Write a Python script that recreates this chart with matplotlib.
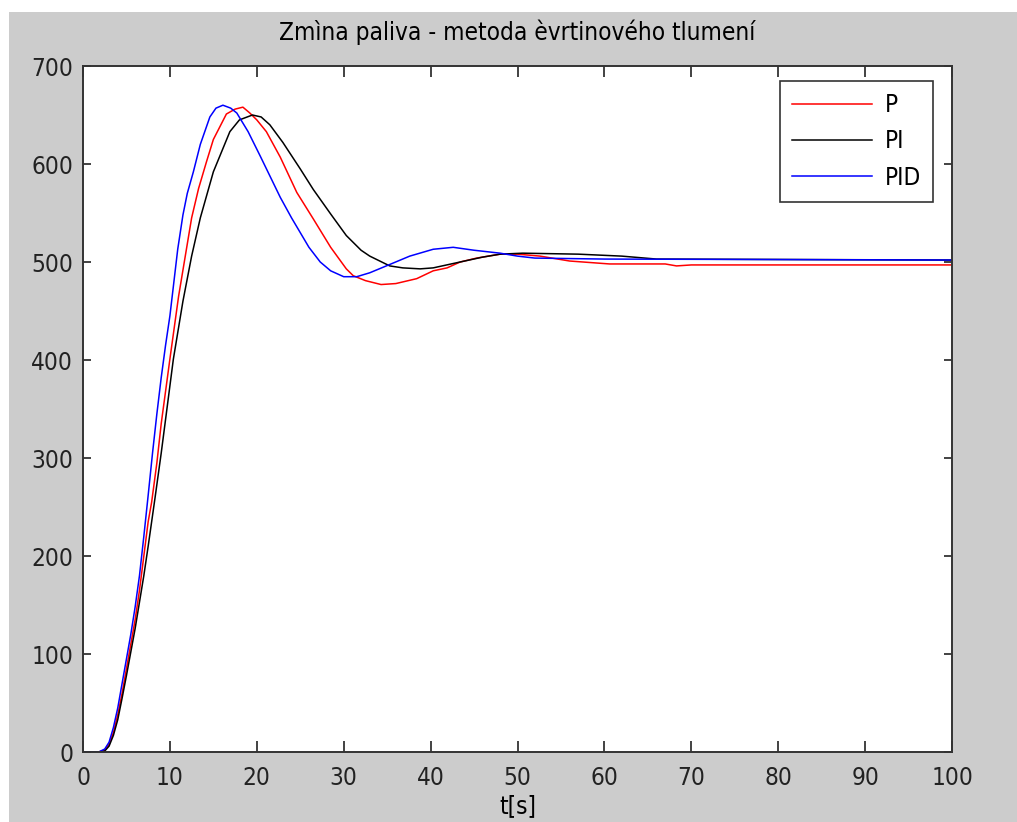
import numpy as np
import matplotlib
matplotlib.use("Agg")
from matplotlib import pyplot as plt
from matplotlib.patches import Rectangle
from matplotlib import font_manager

# (t in s, value)
t_p = [0, 1.8, 2.5, 3, 3.5, 4, 4.5, 5, 5.5, 6, 6.5, 7, 7.5, 7.9, 8.5, 9, 10, 11, 11.9, 12.5,
       13.3, 14.2, 15, 16.5, 17.5, 18.4, 19.2, 20, 21.1, 22.7, 24.6, 26.5, 28.5, 30.3, 31.1,
       32.5, 34.3, 36, 38.4, 40.3, 41.9, 43.4, 45.3, 48, 50, 52.6, 56, 60.6, 65, 67, 68.3, 70, 100]
y_p = [0, 0, 2, 8, 20, 38, 60, 85, 110, 135, 165, 200, 235, 255, 295, 335, 401, 465, 513, 545,
       575, 602, 625, 651, 656, 658, 652, 645, 633, 607, 571, 544, 515, 493, 486,
       481, 477, 478, 483, 491, 494, 500, 504, 508, 508, 506, 501, 498, 498, 498, 496, 497, 497]

t_pi = [0, 1.8, 2.5, 3, 3.5, 4, 4.5, 5, 5.5, 6, 6.5, 7, 7.5, 8.3, 9, 10.4, 11.5, 12.5, 13.5, 15,
        16.9, 18, 19.5, 20.5, 21.5, 23, 25, 26.5, 28.5, 30.3, 32, 33, 35.3, 36.8, 38.8, 40.3,
        43.4, 46, 48, 50.6, 57, 62, 66, 100]
y_pi = [0, 0, 1, 6, 17, 33, 55, 78, 102, 126, 153, 180, 210, 260, 305, 401, 460, 506, 545, 592,
        633, 645, 650, 648, 640, 622, 595, 574, 549, 527, 512, 506, 496, 494, 493, 494,
        500, 505, 508, 509, 508, 506, 503, 502]

t_pid = [0, 1.8, 2.5, 3, 3.5, 4, 4.5, 5, 5.5, 6, 6.5, 7, 7.5, 8, 8.5, 9, 9.5, 10, 10.9, 11.5,
         12, 12.7, 13.5, 14.6, 15.3, 16.1, 17, 17.7, 19, 20.4, 22.7, 24, 25, 26, 27.3, 28.5,
         30, 31.5, 33, 34.9, 37.6, 40.3, 42.6, 45, 48, 50, 52, 60, 100]
y_pid = [0, 0, 3, 10, 25, 45, 70, 95, 120, 148, 180, 220, 262, 305, 345, 382, 415, 445, 513, 548,
         570, 592, 620, 648, 657, 660, 657, 652, 633, 608, 566, 545, 530, 515, 500, 491,
         485, 485, 489, 496, 506, 513, 515, 512, 509, 506, 504, 503, 502]

labels = ["P", "PI", "PID"]
colors = ["#ff0000", "#000000", "#0000ff"]

avail = {f.name for f in font_manager.fontManager.ttflist}
fam = "Liberation Sans Narrow" if "Liberation Sans Narrow" in avail else "DejaVu Sans"
plt.rcParams["font.family"] = [fam, "DejaVu Sans"]
plt.rcParams["font.stretch"] = "condensed"
fs = 17.5

fig = plt.figure(figsize=(10.17, 8.22), dpi=100)
fig.patch.set_facecolor("white")
# gray MATLAB figure background, with a thin white margin on top / left
fig.patches.append(Rectangle((9 / 1017, 0), 1, 1 - 12 / 822, transform=fig.transFigure,
                             facecolor="#cccccc", edgecolor="none", zorder=-10))

ax = fig.add_axes([83 / 1017, 70 / 822, 869 / 1017, 686 / 822])
ax.set_facecolor("white")

for t, y, lab, c in zip([t_p, t_pi, t_pid], [y_p, y_pi, y_pid], labels, colors):
    ax.plot(t, y, color=c, lw=1.1, label=lab)

ax.set_xlim(0, 100)
ax.set_ylim(0, 700)
ax.set_xticks(np.arange(0, 101, 10))
ax.set_yticks(np.arange(0, 701, 100))
ax.tick_params(direction="in", top=True, right=True, labelsize=fs, colors="#222222",
               width=1.2)
ax.tick_params(axis="x", length=8, pad=10)
ax.tick_params(axis="y", length=6, pad=7)
for s in ax.spines.values():
    s.set_linewidth(1.4)
    s.set_color("#333333")

ax.set_title("Zmìna paliva - metoda èvrtinového tlumení", fontsize=fs, pad=19)
ax.set_xlabel("t[s]", fontsize=fs, labelpad=3)

leg = ax.legend(loc="upper right", bbox_to_anchor=(0.978, 0.978), fontsize=fs,
                frameon=True, fancybox=False, handlelength=3.3, handletextpad=0.5,
                labelspacing=0.5, borderpad=0.5, borderaxespad=0)
leg.get_frame().set_edgecolor("black")
leg.get_frame().set_linewidth(1.2)

fig.savefig("out.png", dpi=100, facecolor=fig.get_facecolor())
